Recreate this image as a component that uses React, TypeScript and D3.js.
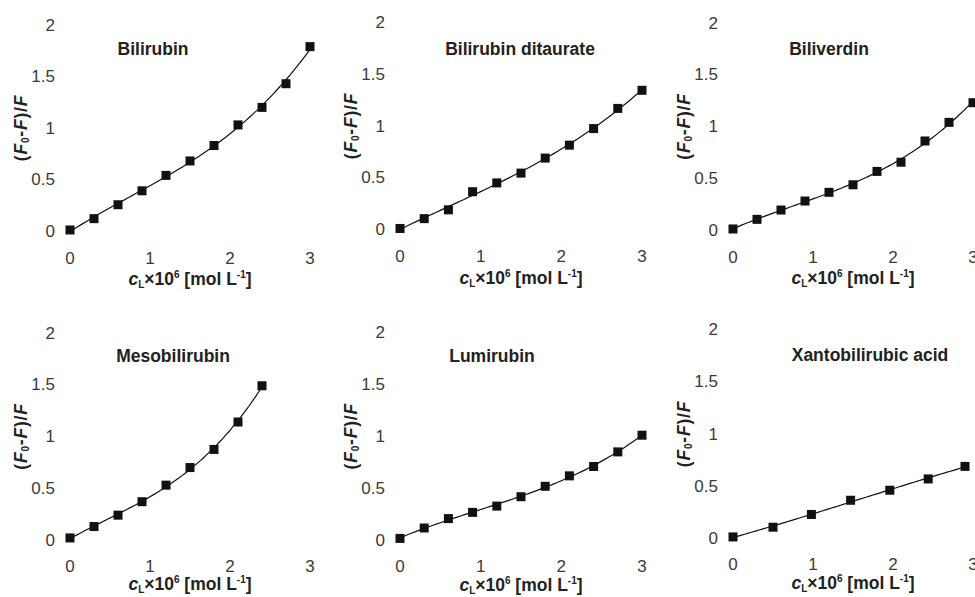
import React from 'react';
import * as d3 from 'd3';

// concentrations (x10^6 mol/L) and quenching values
const xStep03 = [0, 0.3, 0.6, 0.9, 1.2, 1.5, 1.8, 2.1, 2.4, 2.7, 3.0];
const mesoX = [0, 0.3, 0.6, 0.9, 1.2, 1.5, 1.8, 2.1, 2.4];
const xantoX = [0, 0.5, 0.98, 1.47, 1.96, 2.44, 2.9];

const bilirubinY = [0.01, 0.12, 0.255, 0.39, 0.54, 0.68, 0.83, 1.03, 1.2, 1.43, 1.79];
const ditaurateY = [0.01, 0.105, 0.19, 0.365, 0.45, 0.545, 0.69, 0.815, 0.975, 1.17, 1.345];
const biliverdinY = [0.01, 0.103, 0.193, 0.28, 0.364, 0.437, 0.566, 0.655, 0.86, 1.04, 1.23];
const mesoY = [0.02, 0.13, 0.24, 0.37, 0.53, 0.7, 0.875, 1.14, 1.49];
const lumiY = [0.02, 0.12, 0.21, 0.27, 0.33, 0.42, 0.52, 0.62, 0.71, 0.85, 1.01];
const xantoY = [0.015, 0.108, 0.23, 0.366, 0.462, 0.57, 0.69];

const titles = ['Bilirubin', 'Bilirubin ditaurate', 'Biliverdin', 'Mesobilirubin', 'Lumirubin', 'Xantobilirubic acid'];
const xValues = [xStep03, xStep03, xStep03, mesoX, xStep03, xantoX];
const yValues = [bilirubinY, ditaurateY, biliverdinY, mesoY, lumiY, xantoY];

const xTicks = [0, 1, 2, 3];
const yTicks = [0, 0.5, 1, 1.5, 2];

// pixel frame of each panel
const layout = [
  { x0: 70, x3: 310, y0: 231, y2: 25, tx: 153, ty: 55, tickDy: 27, labDy: 54 },
  { x0: 400, x3: 642, y0: 229.5, y2: 22.5, tx: 520, ty: 55, tickDy: 27, labDy: 54 },
  { x0: 733, x3: 973, y0: 230, y2: 23, tx: 829, ty: 55, tickDy: 27, labDy: 54 },
  { x0: 70, x3: 310, y0: 540, y2: 333, tx: 173, ty: 362, tickDy: 26, labDy: 50 },
  { x0: 400, x3: 642, y0: 540.5, y2: 332, tx: 492, ty: 362, tickDy: 26, labDy: 50 },
  { x0: 733, x3: 973, y0: 538.5, y2: 329.5, tx: 870, ty: 361, tickDy: 26, labDy: 50 },
];

const FONT = '"Liberation Sans", Arial, sans-serif';
const fmt = d3.format('');

// least-squares cubic through the read points (the fitted curve of the figure)
function cubicFit(xs: number[], ys: number[]) {
  const n = 4;
  const A = Array.from({ length: n }, () => new Array(n + 1).fill(0));
  xs.forEach((xv, k) => {
    for (let r = 0; r < n; r++) {
      for (let c = 0; c < n; c++) A[r][c] += Math.pow(xv, r + c);
      A[r][n] += ys[k] * Math.pow(xv, r);
    }
  });
  for (let c = 0; c < n; c++) {
    let p = c;
    for (let r = c + 1; r < n; r++) if (Math.abs(A[r][c]) > Math.abs(A[p][c])) p = r;
    [A[c], A[p]] = [A[p], A[c]];
    for (let r = 0; r < n; r++) {
      if (r === c) continue;
      const f = A[r][c] / A[c][c];
      for (let k = c; k <= n; k++) A[r][k] -= f * A[c][k];
    }
  }
  const coef = A.map((row, r) => row[n] / row[r]);
  return (xv: number) => coef.reduce((s, cf, r) => s + cf * Math.pow(xv, r), 0);
}

const Panel = ({ i }: { i: number }) => {
  const L = layout[i];
  const x = d3.scaleLinear().domain([0, 3]).range([L.x0, L.x3]);
  const y = d3.scaleLinear().domain([0, 2]).range([L.y0, L.y2]);
  const xs = xValues[i];
  const pts = xs.map((v, k) => [v, yValues[i][k]] as [number, number]);

  const f = cubicFit(xs, yValues[i]);
  const xmax = d3.max(xs) as number;
  const fitPts = d3.range(0, 61).map(k => {
    const xv = (xmax * k) / 60;
    return [xv, f(xv)] as [number, number];
  });

  const line = d3.line<[number, number]>()
    .x(d => x(d[0]))
    .y(d => y(d[1]))
    .curve(d3.curveMonotoneX);

  const tickRight = L.x0 - 15;
  const ylabX = L.x0 - 49;
  const ylabY = y(1);

  return (
    <g>
      {yTicks.map(t => (
        <text key={'y' + t} x={tickRight} y={y(t)} textAnchor="end" dominantBaseline="central"
          fontSize={17} fill="#3a3a3a" fontFamily={FONT}>{fmt(t)}</text>
      ))}
      {xTicks.map(t => (
        <text key={'x' + t} x={x(t)} y={L.y0 + L.tickDy} textAnchor="middle" dominantBaseline="central"
          fontSize={17} fill="#3a3a3a" fontFamily={FONT}>{fmt(t)}</text>
      ))}
      <text x={L.tx} y={L.ty} textAnchor="middle" fontSize={17.5} fontWeight="bold" fill="#222"
        fontFamily={FONT}>{titles[i]}</text>
      <text x={x(1.5)} y={L.y0 + L.labDy} textAnchor="middle" fontSize={17.5} fontWeight="bold"
        fill="#222" fontFamily={FONT}>
        <tspan fontStyle="italic">c</tspan>
        <tspan fontSize={10} dy={3}>L</tspan>
        <tspan dy={-3}>×10</tspan>
        <tspan fontSize={10} dy={-7}>6</tspan>
        <tspan dy={7}> [mol L</tspan>
        <tspan fontSize={10} dy={-7}>-1</tspan>
        <tspan dy={7}>]</tspan>
      </text>
      <text transform={`translate(${ylabX},${ylabY}) rotate(-90)`} textAnchor="middle"
        dominantBaseline="central" fontSize={17.5} fontWeight="bold" fill="#222" fontFamily={FONT}
        letterSpacing={0.8}>
        <tspan>(</tspan>
        <tspan fontStyle="italic">F</tspan>
        <tspan fontSize={10} dy={4}>0</tspan>
        <tspan dy={-4}>-</tspan>
        <tspan fontStyle="italic">F</tspan>
        <tspan>)/</tspan>
        <tspan fontStyle="italic">F</tspan>
      </text>
      <path d={line(fitPts) || ''} fill="none" stroke="#111" strokeWidth={1.2} />
      {pts.map((d, k) => (
        <rect key={k} x={x(d[0]) - 4.5} y={y(d[1]) - 4.5} width={9} height={9} fill="#111" />
      ))}
    </g>
  );
};

export default function App() {
  return (
    <svg width={975} height={597} style={{ position: 'absolute', left: 0, top: 0, background: '#fff' }}>
      <rect width={975} height={597} fill="#fff" />
      {titles.map((_, i) => <Panel key={i} i={i} />)}
    </svg>
  );
}
